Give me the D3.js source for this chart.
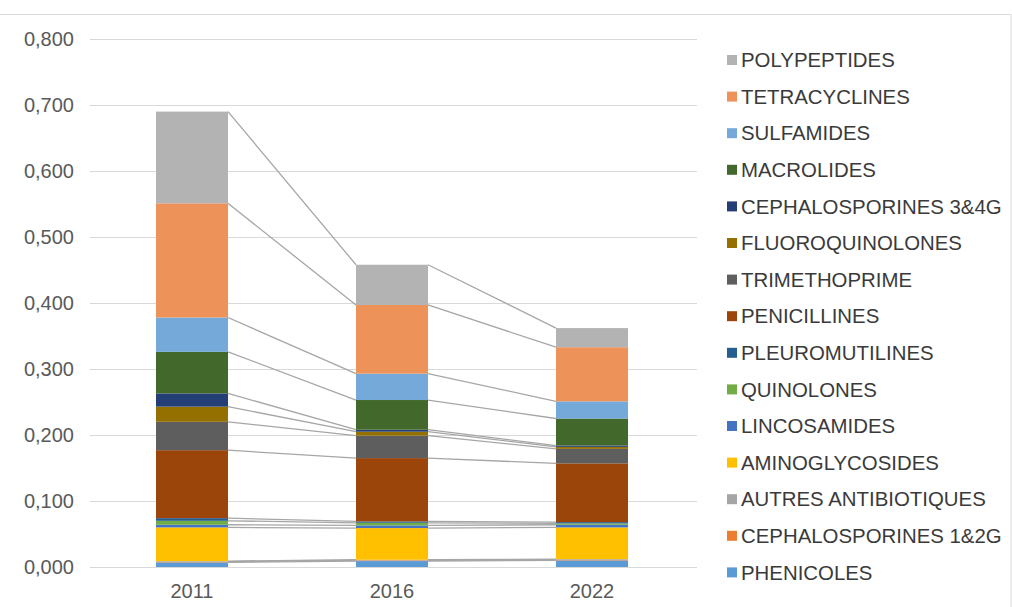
<!DOCTYPE html>
<html>
<head>
<meta charset="utf-8">
<script src="https://cdn.jsdelivr.net/npm/d3@7"></script>
<style>
  body { margin: 0; background: #fff; }
  svg { display: block; font-family: "Liberation Sans", Arial, sans-serif; }
</style>
</head>
<body>
<script>
var width = 1012, height = 607;

/** data, bottom of the stack first **/
var years = ["2011", "2016", "2022"];
var families = [
    "PHENICOLES", "CEPHALOSPORINES 1&2G", "AUTRES ANTIBIOTIQUES", "AMINOGLYCOSIDES",
    "LINCOSAMIDES", "QUINOLONES", "PLEUROMUTILINES", "PENICILLINES", "TRIMETHOPRIME",
    "FLUOROQUINOLONES", "CEPHALOSPORINES 3&4G", "MACROLIDES", "SULFAMIDES",
    "TETRACYCLINES", "POLYPEPTIDES"
];
var colors = [
    "#5b9bd5", "#ed7d31", "#a5a5a5", "#ffc000",
    "#4472c4", "#70ad47", "#255e91", "#9b450a", "#5e5e5e",
    "#947000", "#233f76", "#43682b", "#74a9da",
    "#ed9359", "#b3b3b3"
];
var phenicoles      = [0.007, 0.009, 0.010];
var ceph12          = [0.001, 0.001, 0.001];
var autres          = [0.001, 0.001, 0.001];
var aminoglycosides = [0.051, 0.048, 0.048];
var lincosamides    = [0.004, 0.004, 0.004];
var quinolones      = [0.006, 0.004, 0.002];
var pleuromutilines = [0.004, 0.002, 0.002];
var penicillines    = [0.103, 0.096, 0.089];
var trimethoprime   = [0.043, 0.034, 0.022];
var fluoroquinolones= [0.023, 0.006, 0.003];
var ceph34          = [0.020, 0.003, 0.002];
var macrolides      = [0.063, 0.045, 0.041];
var sulfamides      = [0.052, 0.040, 0.026];
var tetracyclines   = [0.173, 0.104, 0.082];
var polypeptides    = [0.139, 0.061, 0.029];
var yTicks = [0, 0.1, 0.2, 0.3, 0.4, 0.5, 0.6, 0.7, 0.8];

var seriesValues = [phenicoles, ceph12, autres, aminoglycosides, lincosamides, quinolones,
    pleuromutilines, penicillines, trimethoprime, fluoroquinolones, ceph34, macrolides,
    sulfamides, tetracyclines, polypeptides];

// rows for d3.stack
var rows = years.map(function(y, i) {
    var r = { year: y };
    families.forEach(function(f, k) { r[f] = seriesValues[k][i]; });
    return r;
});
var stacked = d3.stack().keys(families)(rows);

var svg = d3.select("body").append("svg")
    .attr("width", width).attr("height", height);

// chart frame
svg.append("rect")
    .attr("x", -1).attr("y", 14.5).attr("width", width).attr("height", height)
    .attr("fill", "none").attr("stroke", "#d9d9d9");

var x = d3.scaleBand().domain(years).range([92, 692]).paddingInner(0.64).paddingOuter(0.32);
var y = d3.scaleLinear().domain([0, 0.8]).range([567, 39]);

var fmt = function(d) { return d3.format(".3f")(d).replace(".", ","); };

// gridlines + y labels
svg.append("g").selectAll("line").data(yTicks).enter().append("line")
    .attr("x1", 90).attr("x2", 697)
    .attr("y1", d => Math.round(y(d)) + 0.5).attr("y2", d => Math.round(y(d)) + 0.5)
    .attr("stroke", "#d9d9d9").attr("stroke-width", 1);

svg.append("g").selectAll("text").data(yTicks).enter().append("text")
    .attr("x", 74).attr("y", d => y(d)).attr("dy", "0.35em")
    .attr("text-anchor", "end").attr("font-size", 20).attr("fill", "#595959")
    .text(fmt);

// series lines between neighbouring bars
var lineG = svg.append("g");
stacked.forEach(function(s) {
    for (var i = 0; i < years.length - 1; i++) {
        lineG.append("line")
            .attr("x1", x(years[i]) + x.bandwidth()).attr("y1", y(s[i][1]))
            .attr("x2", x(years[i + 1])).attr("y2", y(s[i + 1][1]))
            .attr("stroke", "#a6a6a6").attr("stroke-width", 1.3);
    }
});

// bars
svg.append("g").selectAll("g").data(stacked).enter().append("g")
    .attr("fill", (d, i) => colors[i])
    .selectAll("rect").data(d => d).enter().append("rect")
    .attr("x", d => x(d.data.year))
    .attr("width", x.bandwidth())
    .attr("y", d => y(d[1]))
    .attr("height", d => y(d[0]) - y(d[1]));

// x labels
svg.append("g").selectAll("text").data(years).enter().append("text")
    .attr("x", d => x(d) + x.bandwidth() / 2).attr("y", 598)
    .attr("text-anchor", "middle").attr("font-size", 20).attr("fill", "#595959")
    .text(d => d);

// legend, top of stack first
var legendItems = families.map((f, i) => ({ name: f, color: colors[i] })).reverse();
var lg = svg.append("g").selectAll("g").data(legendItems).enter().append("g")
    .attr("transform", (d, i) => "translate(727," + (60 + i * 36.6) + ")");
lg.append("rect").attr("x", 0).attr("y", -5).attr("width", 10).attr("height", 10)
    .attr("fill", d => d.color);
lg.append("text").attr("x", 14).attr("dy", "0.35em")
    .attr("font-size", 20.4).attr("fill", "#3a3a3a")
    .text(d => d.name);
</script>
</body>
</html>
